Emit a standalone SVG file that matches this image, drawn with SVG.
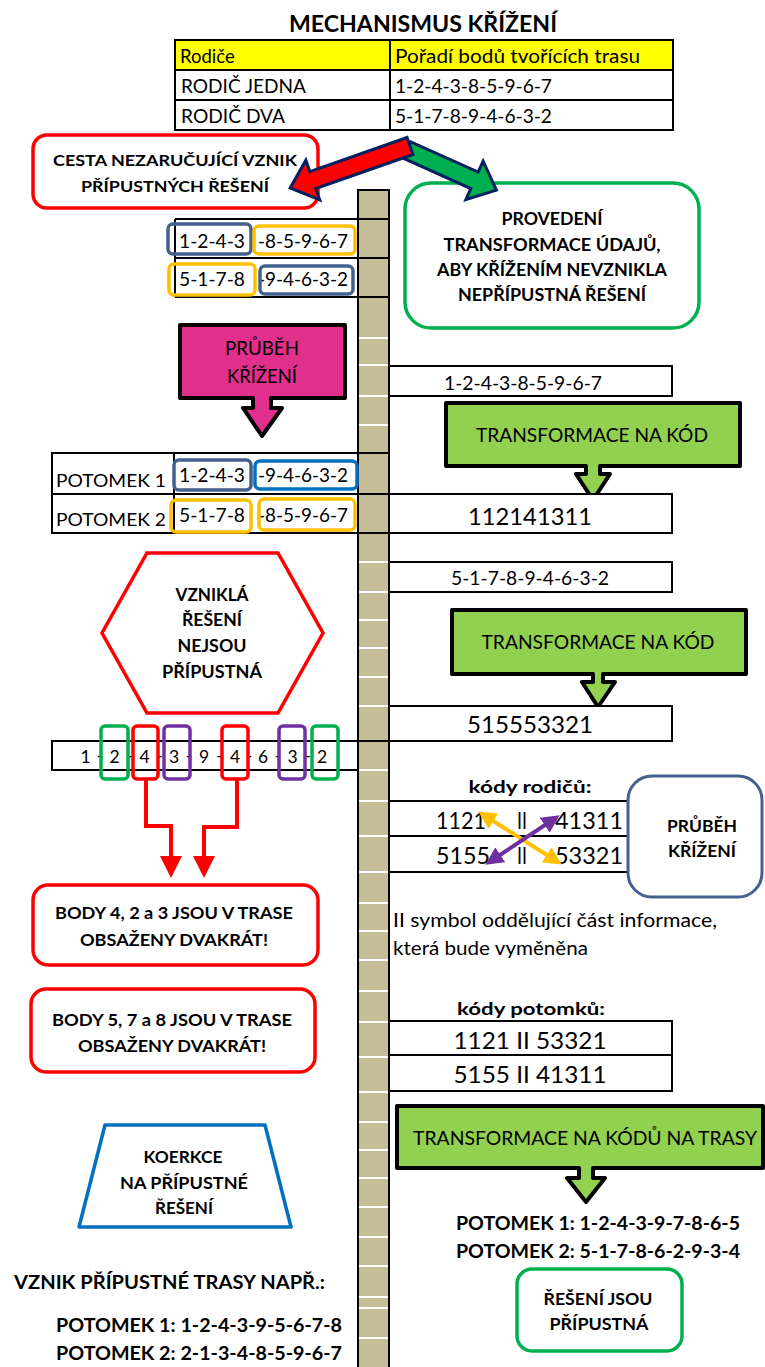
<svg xmlns="http://www.w3.org/2000/svg" width="765" height="1367" viewBox="0 0 765 1367">
<style>
text{font-family:Lato,"Open Sans","Liberation Sans",sans-serif;fill:#000}
.b{font-weight:bold}
.m{text-anchor:middle}
.cell{fill:#fff;stroke:#000;stroke-width:2}
.ln{stroke:#000;stroke-width:2}
.wl{stroke:#fff;stroke-width:2}
.navy{fill:none;stroke:#44608E;stroke-width:3.5}
.org{fill:none;stroke:#FFC000;stroke-width:3.5}
.blu{fill:none;stroke:#0070C0;stroke-width:3.5}
.grn{fill:none;stroke:#00B050;stroke-width:3.5}
.red{fill:none;stroke:#FF0000;stroke-width:3.5}
.pur{fill:none;stroke:#7030A0;stroke-width:3.5}
.callg{fill:#92D050;stroke:#000;stroke-width:4;stroke-linejoin:round}
</style>
<defs>
<marker id="rh" markerUnits="userSpaceOnUse" markerWidth="24" markerHeight="22" refX="2" refY="11" orient="auto" viewBox="0 0 24 22">
<path d="M0,0 L22,11 L0,22 Z" fill="#FF0000"/>
</marker>
<marker id="oh" markerUnits="userSpaceOnUse" markerWidth="18" markerHeight="18" refX="4" refY="9" orient="auto-start-reverse" viewBox="0 0 18 18">
<path d="M0,0 L18,9 L0,18 Z" fill="#FFC000"/>
</marker>
<marker id="ph" markerUnits="userSpaceOnUse" markerWidth="18" markerHeight="18" refX="4" refY="9" orient="auto-start-reverse" viewBox="0 0 18 18">
<path d="M0,0 L18,9 L0,18 Z" fill="#7030A0"/>
</marker>
</defs>
<rect width="765" height="1367" fill="#fff"/>

<!-- central column -->
<g id="column">
<rect x="358" y="190" width="31" height="1180" fill="#C4BD97"/>
<g class="wl">
<line x1="359" y1="338" x2="388" y2="338"/><line x1="359" y1="365" x2="388" y2="365"/>
<line x1="359" y1="396" x2="388" y2="396"/><line x1="359" y1="425" x2="388" y2="425"/>
<line x1="359" y1="562" x2="388" y2="562"/><line x1="359" y1="592" x2="388" y2="592"/>
<line x1="359" y1="620" x2="388" y2="620"/><line x1="359" y1="648" x2="388" y2="648"/>
<line x1="359" y1="677" x2="388" y2="677"/><line x1="359" y1="706" x2="388" y2="706"/>
<line x1="359" y1="770" x2="388" y2="770"/><line x1="359" y1="801" x2="388" y2="801"/>
<line x1="359" y1="836" x2="388" y2="836"/><line x1="359" y1="872" x2="388" y2="872"/>
<line x1="359" y1="903" x2="388" y2="903"/><line x1="359" y1="931" x2="388" y2="931"/>
<line x1="359" y1="960" x2="388" y2="960"/><line x1="359" y1="991" x2="388" y2="991"/>
<line x1="359" y1="1022" x2="388" y2="1022"/><line x1="359" y1="1057" x2="388" y2="1057"/>
<line x1="359" y1="1092" x2="388" y2="1092"/><line x1="359" y1="1122" x2="388" y2="1122"/>
<line x1="359" y1="1150" x2="388" y2="1150"/><line x1="359" y1="1178" x2="388" y2="1178"/>
<line x1="359" y1="1207" x2="388" y2="1207"/><line x1="359" y1="1237" x2="388" y2="1237"/>
<line x1="359" y1="1266" x2="388" y2="1266"/><line x1="359" y1="1297" x2="388" y2="1297"/>
<line x1="359" y1="1308" x2="388" y2="1308"/><line x1="359" y1="1338" x2="388" y2="1338"/>
</g>
<g class="ln">
<line x1="357" y1="190" x2="390" y2="190"/>
<line x1="358" y1="190" x2="358" y2="1367"/>
<line x1="389" y1="190" x2="389" y2="1367"/>
<line x1="358" y1="219" x2="389" y2="219"/><line x1="358" y1="258" x2="389" y2="258"/>
<line x1="358" y1="297" x2="389" y2="297"/><line x1="358" y1="453" x2="389" y2="453"/>
<line x1="358" y1="494" x2="389" y2="494"/><line x1="358" y1="533" x2="389" y2="533"/>
<line x1="358" y1="741" x2="389" y2="741"/>
</g>
</g>

<!-- title & parents table -->
<g id="title"><text class="b m" x="423" y="32" font-size="22" textLength="268" lengthAdjust="spacingAndGlyphs">MECHANISMUS KŘÍŽENÍ</text></g>
<g id="parents-table">
<rect x="175" y="40" width="498" height="30" fill="#FFFF00"/>
<rect x="175" y="40" width="498" height="90" fill="none" stroke="#000" stroke-width="2"/>
<line class="ln" x1="175" y1="70" x2="673" y2="70"/>
<line class="ln" x1="175" y1="100" x2="673" y2="100"/>
<line class="ln" x1="390" y1="40" x2="390" y2="130"/>
<text x="180" y="63" font-size="18.5">Rodiče</text>
<text x="395" y="63" font-size="18.5" textLength="245" lengthAdjust="spacingAndGlyphs">Pořadí bodů tvořících trasu</text>
<text x="181" y="93" font-size="18.5" textLength="125" lengthAdjust="spacingAndGlyphs">RODIČ JEDNA</text>
<text x="395" y="93" font-size="18.5" textLength="157" lengthAdjust="spacingAndGlyphs">1-2-4-3-8-5-9-6-7</text>
<text x="181" y="123" font-size="18.5" textLength="104" lengthAdjust="spacingAndGlyphs">RODIČ DVA</text>
<text x="395" y="123" font-size="18.5" textLength="157" lengthAdjust="spacingAndGlyphs">5-1-7-8-9-4-6-3-2</text>
</g>

<g id="cesta">
<rect x="33" y="135" width="285" height="73" rx="14" fill="#fff" stroke="#FF0000" stroke-width="3.5"/>
<text class="b m" x="175" y="166" font-size="16" textLength="244" lengthAdjust="spacingAndGlyphs">CESTA NEZARUČUJÍCÍ VZNIK</text>
<text class="b m" x="175" y="192" font-size="16" textLength="188" lengthAdjust="spacingAndGlyphs">PŘÍPUSTNÝCH ŘEŠENÍ</text>
</g>

<g id="provedeni">
<rect x="405" y="183" width="294" height="145" rx="26" fill="#fff" stroke="#00B050" stroke-width="3.5"/>
<text class="b m" x="552" y="225" font-size="16.5" textLength="101" lengthAdjust="spacingAndGlyphs">PROVEDENÍ</text>
<text class="b m" x="552" y="251" font-size="16.5" textLength="217" lengthAdjust="spacingAndGlyphs">TRANSFORMACE ÚDAJŮ,</text>
<text class="b m" x="552" y="276" font-size="16.5" textLength="230" lengthAdjust="spacingAndGlyphs">ABY KŘÍŽENÍM NEVZNIKLA</text>
<text class="b m" x="552" y="301" font-size="16.5" textLength="188" lengthAdjust="spacingAndGlyphs">NEPŘÍPUSTNÁ ŘEŠENÍ</text>
</g>

<!-- split arrows -->
<g id="split-arrows" stroke="#002060" stroke-width="3" stroke-linejoin="miter">
<polygon transform="translate(407,150) rotate(24.2)" points="0,-9 74,-9 74,-21 98,0 74,21 74,9 0,9" fill="#00B050"/>
<polygon transform="translate(410,146) rotate(160.7)" points="0,-9 103,-9 103,-21 127,0 103,21 103,9 0,9" fill="#FF0000"/>
</g>

<!-- left parent split table -->
<g id="parent-split">
<g class="ln">
<line x1="175" y1="219" x2="358" y2="219"/><line x1="175" y1="258" x2="358" y2="258"/>
<line x1="175" y1="297" x2="358" y2="297"/><line x1="175" y1="219" x2="175" y2="297"/>
</g>
<text x="179" y="248" font-size="18.5" textLength="66" lengthAdjust="spacingAndGlyphs">1-2-4-3</text>
<text x="258" y="248" font-size="18.5" textLength="90" lengthAdjust="spacingAndGlyphs">-8-5-9-6-7</text>
<text x="179" y="286" font-size="18.5" textLength="66" lengthAdjust="spacingAndGlyphs">5-1-7-8</text>
<text x="258" y="286" font-size="18.5" textLength="90" lengthAdjust="spacingAndGlyphs">-9-4-6-3-2</text>
<rect class="navy" x="168" y="224" width="83" height="30" rx="5"/>
<rect class="org" x="254" y="226" width="101" height="28" rx="5"/>
<rect class="org" x="169" y="264" width="86" height="31" rx="5"/>
<rect class="navy" x="260" y="266" width="93" height="28" rx="5"/>
</g>

<g id="pink-callout">
<path d="M180,325 H345 V398 H271 V408 H282 L262,436 L243,408 H253 V398 H180 Z" fill="#E0308C" stroke="#000" stroke-width="4" stroke-linejoin="round"/>
<text class="m" x="262" y="355" font-size="19" textLength="74" lengthAdjust="spacingAndGlyphs">PRŮBĚH</text>
<text class="m" x="262" y="383" font-size="19" textLength="70" lengthAdjust="spacingAndGlyphs">KŘÍŽENÍ</text>
</g>

<g id="offspring-table">
<rect x="52" y="453" width="306" height="80" fill="none" stroke="#000" stroke-width="2"/>
<line class="ln" x1="52" y1="494" x2="358" y2="494"/>
<line class="ln" x1="174" y1="453" x2="174" y2="533"/>
<text x="56" y="487" font-size="17.5" textLength="110" lengthAdjust="spacingAndGlyphs">POTOMEK 1</text>
<text x="56" y="526" font-size="17.5" textLength="110" lengthAdjust="spacingAndGlyphs">POTOMEK 2</text>
<text x="179" y="482" font-size="18.5" textLength="66" lengthAdjust="spacingAndGlyphs">1-2-4-3</text>
<text x="258" y="482" font-size="18.5" textLength="90" lengthAdjust="spacingAndGlyphs">-9-4-6-3-2</text>
<text x="179" y="522" font-size="18.5" textLength="66" lengthAdjust="spacingAndGlyphs">5-1-7-8</text>
<text x="258" y="522" font-size="18.5" textLength="90" lengthAdjust="spacingAndGlyphs">-8-5-9-6-7</text>
<rect class="navy" x="174" y="460" width="77" height="30" rx="5"/>
<rect class="blu" x="255" y="461" width="102" height="28" rx="5"/>
<rect class="org" x="171" y="500" width="80" height="32" rx="5"/>
<rect class="org" x="259" y="499" width="96" height="31" rx="5"/>
</g>

<!-- right column rows -->
<g id="row-p1">
<rect class="cell" x="389" y="366" width="283" height="30"/>
<text class="m" x="523" y="390" font-size="18.5" textLength="158" lengthAdjust="spacingAndGlyphs">1-2-4-3-8-5-9-6-7</text>
</g>
<g id="transform-1">
<path class="callg" d="M446,403 H740 V466 H600 V474 H610 L593,500 L576,474 H586 V466 H446 Z"/>
<text class="m" x="592" y="442" font-size="19.5" textLength="232" lengthAdjust="spacingAndGlyphs">TRANSFORMACE NA KÓD</text>
</g>
<g id="code-1">
<rect class="cell" x="389" y="494" width="283" height="39"/>
<text class="m" x="530" y="525" font-size="23.5" textLength="124" lengthAdjust="spacingAndGlyphs">112141311</text>
</g>
<g id="row-p2">
<rect class="cell" x="389" y="562" width="283" height="30"/>
<text class="m" x="530" y="585" font-size="18.5" textLength="158" lengthAdjust="spacingAndGlyphs">5-1-7-8-9-4-6-3-2</text>
</g>
<g id="transform-2">
<path class="callg" d="M452,610 H746 V674 H603 V682 H615 L598,707 L582,682 H593 V674 H452 Z"/>
<text class="m" x="598" y="649" font-size="19.5" textLength="233" lengthAdjust="spacingAndGlyphs">TRANSFORMACE NA KÓD</text>
</g>
<g id="code-2">
<rect class="cell" x="389" y="706" width="283" height="35"/>
<text class="m" x="530" y="733" font-size="23.5" textLength="126" lengthAdjust="spacingAndGlyphs">515553321</text>
</g>

<!-- hexagon -->
<g id="hexagon">
<polygon points="147,553 278,553 323,633 278,713 147,713 102,633" fill="#fff" stroke="#FF0000" stroke-width="3.5" stroke-linejoin="miter"/>
<text class="b m" x="212" y="601" font-size="16.5" textLength="73" lengthAdjust="spacingAndGlyphs">VZNIKLÁ</text>
<text class="b m" x="212" y="626" font-size="16.5" textLength="60" lengthAdjust="spacingAndGlyphs">ŘEŠENÍ</text>
<text class="b m" x="212" y="652" font-size="16.5" textLength="69" lengthAdjust="spacingAndGlyphs">NEJSOU</text>
<text class="b m" x="212" y="678" font-size="16.5" textLength="100" lengthAdjust="spacingAndGlyphs">PŘÍPUSTNÁ</text>
</g>

<!-- sequence row -->
<g id="sequence">
<rect x="52" y="741" width="306" height="29" fill="none" stroke="#000" stroke-width="2"/>
<g font-size="17.5">
<text class="m" x="85.5" y="763">1</text>
<text class="m" x="114.5" y="763">2</text>
<text class="m" x="144.5" y="763">4</text>
<text class="m" x="174" y="763">3</text>
<text class="m" x="204" y="763">9</text>
<text class="m" x="235" y="763">4</text>
<text class="m" x="263" y="763">6</text>
<text class="m" x="292.5" y="763">3</text>
<text class="m" x="322" y="763">2</text>
<text class="m" x="100" y="762">-</text>
<text class="m" x="129.5" y="762">-</text>
<text class="m" x="159.5" y="762">-</text>
<text class="m" x="189" y="762">-</text>
<text class="m" x="219.5" y="762">-</text>
<text class="m" x="249" y="762">-</text>
<text class="m" x="278" y="762">-</text>
<text class="m" x="307.5" y="762">-</text>
</g>
<rect class="grn" x="101" y="726" width="27" height="53" rx="4"/>
<rect class="red" x="133" y="726" width="25" height="53" rx="4"/>
<rect class="pur" x="164" y="726" width="26" height="53" rx="4"/>
<rect class="red" x="222" y="726" width="26" height="53" rx="4"/>
<rect class="pur" x="279" y="726" width="26" height="53" rx="4"/>
<rect class="grn" x="312" y="726" width="26" height="53" rx="4"/>
</g>

<g id="body-423">
<rect x="33" y="885" width="285" height="80" rx="15" fill="#fff" stroke="#FF0000" stroke-width="3.5"/>
<text class="b m" x="174" y="919" font-size="17" textLength="238" lengthAdjust="spacingAndGlyphs">BODY 4, 2 a 3 JSOU V TRASE</text>
<text class="b m" x="174" y="946" font-size="17" textLength="188" lengthAdjust="spacingAndGlyphs">OBSAŽENY DVAKRÁT!</text>
</g>
<g id="body-578">
<rect x="31" y="989" width="284" height="83" rx="15" fill="#fff" stroke="#FF0000" stroke-width="3.5"/>
<text class="b m" x="172" y="1026" font-size="17" textLength="240" lengthAdjust="spacingAndGlyphs">BODY 5, 7 a 8 JSOU V TRASE</text>
<text class="b m" x="172" y="1052" font-size="17" textLength="188" lengthAdjust="spacingAndGlyphs">OBSAŽENY DVAKRÁT!</text>
</g>

<!-- parent codes -->
<g id="parent-codes">
<text class="b m" x="530" y="793" font-size="16.5" textLength="123" lengthAdjust="spacingAndGlyphs">kódy rodičů:</text>
<g class="ln">
<line x1="389" y1="801" x2="630" y2="801"/>
<line x1="389" y1="836" x2="630" y2="836"/>
<line x1="389" y1="872" x2="630" y2="872"/>
</g>
<g font-size="22.5">
<text x="436" y="829" textLength="50" lengthAdjust="spacingAndGlyphs">1121</text>
<text x="517" y="829" textLength="10" lengthAdjust="spacingAndGlyphs">II</text>
<text x="555" y="829" textLength="68" lengthAdjust="spacingAndGlyphs">41311</text>
<text x="436" y="864" textLength="54" lengthAdjust="spacingAndGlyphs">5155</text>
<text x="517" y="864" textLength="10" lengthAdjust="spacingAndGlyphs">II</text>
<text x="555" y="864" textLength="68" lengthAdjust="spacingAndGlyphs">53321</text>
</g>
</g>

<g id="prubeh-2">
<rect x="628" y="776" width="134" height="121" rx="24" fill="#fff" stroke="#44608E" stroke-width="3"/>
<text class="b m" x="702" y="832" font-size="17" textLength="70" lengthAdjust="spacingAndGlyphs">PRŮBĚH</text>
<text class="b m" x="702" y="857" font-size="17" textLength="68" lengthAdjust="spacingAndGlyphs">KŘÍŽENÍ</text>
</g>

<g id="note">
<text x="393" y="927" font-size="18.5" textLength="324" lengthAdjust="spacingAndGlyphs">II symbol oddělující část informace,</text>
<text x="393" y="955" font-size="18.5" textLength="195" lengthAdjust="spacingAndGlyphs">která bude vyměněna</text>
</g>

<g id="child-codes">
<text class="b m" x="531" y="1015" font-size="16.5" textLength="148" lengthAdjust="spacingAndGlyphs">kódy potomků:</text>
<rect class="cell" x="389" y="1021" width="283" height="34"/>
<rect class="cell" x="389" y="1055" width="283" height="36"/>
<text class="m" x="530" y="1049" font-size="22.5" textLength="153" lengthAdjust="spacingAndGlyphs">1121 II 53321</text>
<text class="m" x="530" y="1083" font-size="22.5" textLength="153" lengthAdjust="spacingAndGlyphs">5155 II 41311</text>
</g>

<g id="transform-3">
<path class="callg" d="M397,1106 H763 V1168 H593 V1178 H605 L586,1202 L567,1178 H579 V1168 H397 Z"/>
<text class="m" x="585" y="1145" font-size="19.5" textLength="344" lengthAdjust="spacingAndGlyphs">TRANSFORMACE NA KÓDŮ NA TRASY</text>
</g>

<g id="result-right">
<text class="b" x="456" y="1230" font-size="18.5" textLength="284" lengthAdjust="spacingAndGlyphs">POTOMEK 1: 1-2-4-3-9-7-8-6-5</text>
<text class="b" x="456" y="1258" font-size="18.5" textLength="284" lengthAdjust="spacingAndGlyphs">POTOMEK 2: 5-1-7-8-6-2-9-3-4</text>
</g>
<g id="reseni-ok">
<rect x="517" y="1269" width="165" height="82" rx="15" fill="#fff" stroke="#00B050" stroke-width="3.5"/>
<text class="b m" x="598" y="1305" font-size="17" textLength="109" lengthAdjust="spacingAndGlyphs">ŘEŠENÍ JSOU</text>
<text class="b m" x="599" y="1330" font-size="17" textLength="99" lengthAdjust="spacingAndGlyphs">PŘÍPUSTNÁ</text>
</g>

<g id="koerkce">
<polygon points="105,1125 265,1125 291,1227 79,1227" fill="#fff" stroke="#0070C0" stroke-width="3.5" stroke-linejoin="round"/>
<text class="b m" x="183" y="1163" font-size="17.5" textLength="79" lengthAdjust="spacingAndGlyphs">KOERKCE</text>
<text class="b m" x="184" y="1189" font-size="17.5" textLength="128" lengthAdjust="spacingAndGlyphs">NA PŘÍPUSTNÉ</text>
<text class="b m" x="184" y="1214" font-size="17.5" textLength="58" lengthAdjust="spacingAndGlyphs">ŘEŠENÍ</text>
</g>

<g id="result-left">
<text class="b" x="14" y="1289" font-size="18" textLength="311" lengthAdjust="spacingAndGlyphs">VZNIK PŘÍPUSTNÉ TRASY NAPŘ.:</text>
<text class="b" x="56" y="1332" font-size="18.5" textLength="286" lengthAdjust="spacingAndGlyphs">POTOMEK 1: 1-2-4-3-9-5-6-7-8</text>
<text class="b" x="56" y="1360" font-size="18.5" textLength="286" lengthAdjust="spacingAndGlyphs">POTOMEK 2: 2-1-3-4-8-5-9-6-7</text>
</g>

<!-- connectors -->
<g id="connectors" fill="none">
<path d="M146,780 V826 H171 V858" stroke="#FF0000" stroke-width="4" marker-end="url(#rh)"/>
<path d="M237,780 V827 H204 V858" stroke="#FF0000" stroke-width="4" marker-end="url(#rh)"/>
<line x1="490" y1="819" x2="550" y2="857" stroke="#FFC000" stroke-width="4" marker-start="url(#oh)" marker-end="url(#oh)"/>
<line x1="497" y1="857" x2="548" y2="823" stroke="#7030A0" stroke-width="4" marker-start="url(#ph)" marker-end="url(#ph)"/>
</g>
</svg>
